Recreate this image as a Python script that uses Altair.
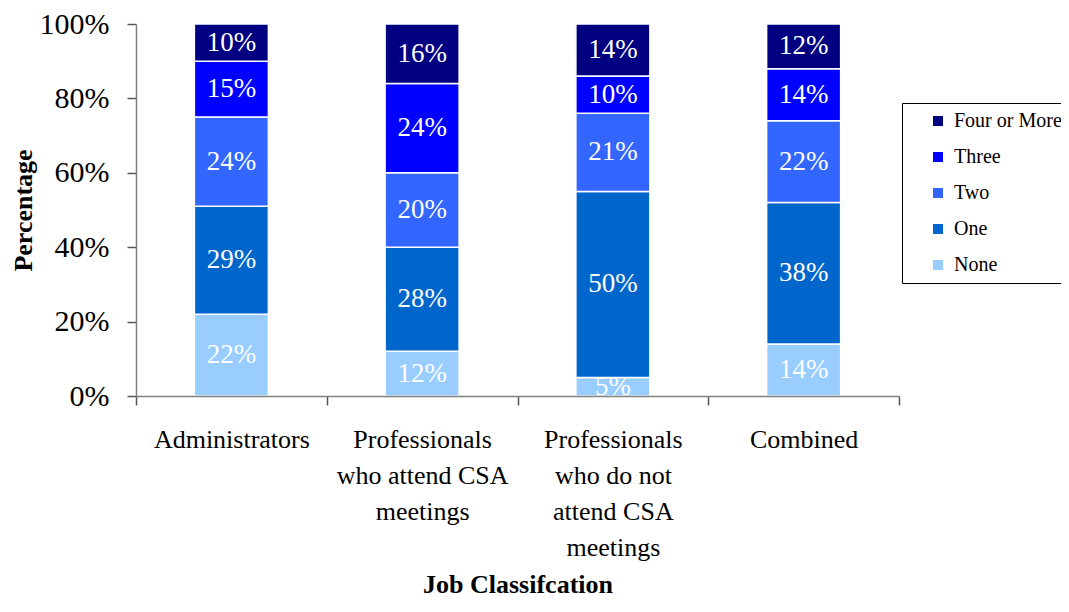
import altair as alt
import pandas as pd

categories = [
    "Administrators",
    "Professionals|who attend CSA|meetings",
    "Professionals|who do not|attend CSA|meetings",
    "Combined",
]
levels = ["None", "One", "Two", "Three", "Four or More"]
none_vals = [22, 12, 5, 14]
one_vals = [29, 28, 50, 38]
two_vals = [24, 20, 21, 22]
three_vals = [15, 24, 10, 14]
four_vals = [10, 16, 14, 12]
level_colors = {
    "None": "#99CCFF",
    "One": "#0066CC",
    "Two": "#3366FF",
    "Three": "#0000FF",
    "Four or More": "#000080",
}
y_ticks = [0, 20, 40, 60, 80, 100]

series = [none_vals, one_vals, two_vals, three_vals, four_vals]
rows = []
for li, (lev, vals) in enumerate(zip(levels, series)):
    for cat, v in zip(categories, vals):
        rows.append({"cat": cat, "level": lev, "value": v, "ord": li})
df = pd.DataFrame(rows)

legend_order = list(reversed(levels))
FONT = "Liberation Serif"

x_axis = alt.Axis(
    title="Job Classifcation",
    labelExpr="split(datum.label, '|')",
    labelAngle=0,
    labelFont=FONT,
    labelFontSize=26,
    labelLineHeight=36,
    labelColor="black",
    labelPadding=21,
    labelLimit=400,
    tickBand="extent",
    tickSize=9,
    tickColor="#555555",
    tickWidth=1.5,
    domainColor="#808080",
    domainWidth=1.5,
    titleFont=FONT,
    titleFontSize=26,
    titleFontWeight="bold",
    titleColor="black",
    titleY=188,
    titleBaseline="middle",
    zindex=1,
)
y_axis = alt.Axis(
    title="Percentage",
    values=y_ticks,
    labelExpr="datum.value + '%'",
    labelFont=FONT,
    labelFontSize=30,
    labelColor="black",
    labelPadding=18,
    tickSize=9,
    tickColor="#555555",
    tickWidth=1.5,
    domainColor="#808080",
    domainWidth=1.5,
    grid=False,
    titleFont=FONT,
    titleFontSize=26,
    titleFontWeight="bold",
    titleColor="black",
    titleX=-113,
    titleY=186,
    titleAngle=-90,
    titleAlign="center",
    titleBaseline="middle",
    zindex=1,
)
x_scale = alt.Scale(paddingInner=0, paddingOuter=0)
y_scale = alt.Scale(domain=[0, 100], nice=False)

base = alt.Chart(df)

bars = base.mark_bar(stroke="white", strokeWidth=1.5, width=74).encode(
    x=alt.X("cat:N", sort=categories, scale=x_scale, axis=x_axis),
    y=alt.Y("value:Q", stack="zero", scale=y_scale, axis=y_axis),
    color=alt.Color(
        "level:N",
        scale=alt.Scale(domain=legend_order, range=[level_colors[l] for l in legend_order]),
        legend=alt.Legend(
            title=None,
            orient="none",
            legendX=766,
            legendY=79,
            strokeColor="black",
            fillColor="white",
            padding=8,
            symbolType="square",
            symbolSize=100,
            symbolStrokeWidth=0,
            symbolOffset=18,
            labelFont=FONT,
            labelFontSize=20,
            labelColor="black",
            labelOffset=6,
            rowPadding=16,
        ),
    ),
    order=alt.Order("ord:Q", sort="ascending"),
)

labels = base.transform_window(
    cum="sum(value)",
    groupby=["cat"],
    sort=[alt.SortField("ord", order="ascending")],
    frame=[None, 0],
).transform_calculate(
    mid="datum.cum - datum.value / 2",
    txt="datum.value + '%'",
).mark_text(
    color="white", font=FONT, fontSize=27, baseline="middle", align="center", clip=True
).encode(
    x=alt.X("cat:N", sort=categories, scale=x_scale, axis=x_axis),
    y=alt.Y("mid:Q", scale=y_scale, axis=y_axis),
    text="txt:N",
)

chart = (
    alt.layer(bars, labels)
    .properties(
        width=763,
        height=372,
        autosize=alt.AutoSizeParams(type="none"),
        padding={"left": 128, "top": 16, "right": 162, "bottom": 208},
        view=alt.ViewBackground(strokeWidth=0, strokeOpacity=0),
    )
    .configure_view(strokeWidth=0, strokeOpacity=0)
    .configure(background="white")
)

chart.save("out.html", embed_options={"renderer": "svg", "actions": False})
